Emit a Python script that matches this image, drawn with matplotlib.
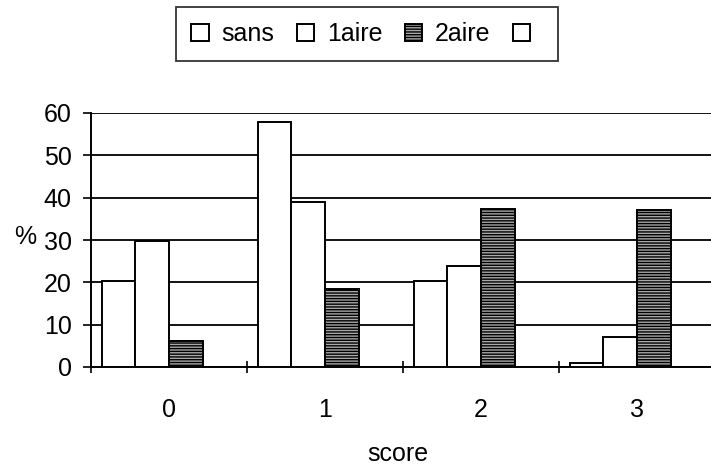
import matplotlib
matplotlib.use("Agg")
import matplotlib.pyplot as plt
import numpy as np

plt.rcParams['font.family'] = ['Liberation Sans', 'DejaVu Sans']

categories = ['0', '1', '2', '3']
series_names = ['sans', '1aire', '2aire', '']
sans = [20.3, 57.9, 20.4, 1.0]
aire1 = [29.8, 38.9, 23.9, 7.1]
aire2 = [6.2, 18.4, 37.4, 37.1]
empty = [0, 0, 0, 0]
yticks = [0, 10, 20, 30, 40, 50, 60]

FS = 18

fig = plt.figure(figsize=(7.11, 4.67), dpi=100)
ax = fig.add_axes([91/711, 100/467, 624/711, 254/467])

x = np.arange(len(categories))
w = 0.215
offs = [-1.5*w, -0.5*w, 0.5*w, 1.5*w]
data = [sans, aire1, aire2, empty]
styles = [dict(facecolor='white', hatch=None),
          dict(facecolor='white', hatch=None),
          dict(facecolor='#a8a8a8', hatch='------'),
          dict(facecolor='white', hatch=None)]
handles = []
for vals, off, st, name in zip(data, offs, styles, series_names):
    b = ax.bar(x + off, vals, width=w, edgecolor='black', linewidth=1.4,
               facecolor=st['facecolor'], hatch=st['hatch'], zorder=3, label=name)
    handles.append(b)

ax.set_xlim(-0.5, 3.5)
ax.set_ylim(0, 60)
ax.set_yticks(yticks)
ax.set_yticklabels([str(t) for t in yticks], fontsize=FS)
ax.yaxis.grid(True, color='black', linewidth=1.3, zorder=0)
ax.set_axisbelow(True)
ax.set_xticks(x)
ax.set_xticklabels(categories, fontsize=FS)
ax.tick_params(axis='x', which='major', length=0, pad=22)
ax.set_xticks(np.arange(-0.5, 3.6, 1), minor=True)
ax.tick_params(axis='x', which='minor', direction='inout', length=8, width=1.2)
ax.tick_params(axis='y', direction='out', length=6, width=1.2, pad=8)
for s in ['top', 'right']:
    ax.spines[s].set_visible(False)
for s in ['left', 'bottom']:
    ax.spines[s].set_linewidth(1.4)

fig.text(25/711, 1 - 237/467, '%', fontsize=FS, ha='center', va='center')
fig.text(398/711, 1 - 454/467, 'score', fontsize=FS, ha='center', va='center')

leg = fig.legend(handles=handles, labels=series_names, loc='center',
                 bbox_to_anchor=(367/711, 1 - 34/467), ncol=4, frameon=True,
                 fancybox=False, edgecolor='black', fontsize=FS,
                 handlelength=0.7, handleheight=0.7, handletextpad=0.5,
                 columnspacing=0.9, borderpad=0.6)
leg.get_frame().set_linewidth(1.3)

fig.savefig('out.png', dpi=100)
